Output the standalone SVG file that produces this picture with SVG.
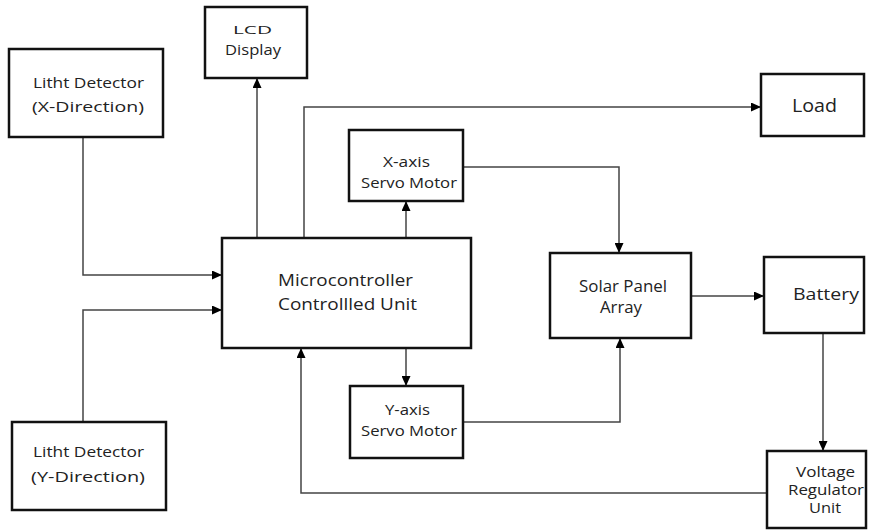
<svg xmlns="http://www.w3.org/2000/svg" width="877" height="531" viewBox="0 0 877 531">
<style>
.box{fill:#fff;stroke:#111;stroke-width:2.5}
.t{font-family:"Open Sans","Noto Sans",sans-serif;fill:#222;text-anchor:middle}
.c{fill:none;stroke:#444;stroke-width:1.5}
</style>
<defs>
<marker id="a" markerWidth="10" markerHeight="9" refX="10" refY="4.5" orient="auto" markerUnits="userSpaceOnUse">
<path d="M0,0 L10,4.5 L0,9 Z" fill="#000"/>
</marker>
</defs>
<g id="connectors">
<path class="c" d="M83,137 V275 H222" marker-end="url(#a)"/>
<path class="c" d="M83,422 V310 H222" marker-end="url(#a)"/>
<path class="c" d="M257,238 V78" marker-end="url(#a)"/>
<path class="c" d="M304,238 V107 H761" marker-end="url(#a)"/>
<path class="c" d="M406,238 V201" marker-end="url(#a)"/>
<path class="c" d="M463,167 H619 V253" marker-end="url(#a)"/>
<path class="c" d="M406,348 V386" marker-end="url(#a)"/>
<path class="c" d="M463,422 H620 V338" marker-end="url(#a)"/>
<path class="c" d="M691,296 H764" marker-end="url(#a)"/>
<path class="c" d="M823,333 V451" marker-end="url(#a)"/>
<path class="c" d="M767,493 H301 V348" marker-end="url(#a)"/>
</g>
<g id="ldx"><rect class="box" x="9" y="49" width="154" height="88"/><text class="t" font-size="14.5" x="88.5" y="88" textLength="111" lengthAdjust="spacingAndGlyphs">Litht Detector</text><text class="t" font-size="14.5" x="88" y="112" textLength="112" lengthAdjust="spacingAndGlyphs">(X-Direction)</text></g>
<g id="lcd"><rect class="box" x="205" y="7" width="102" height="71"/><text class="t" font-size="11.5" x="252.5" y="34" textLength="39" lengthAdjust="spacingAndGlyphs">LCD</text><text class="t" font-size="15" x="253" y="55" textLength="56" lengthAdjust="spacingAndGlyphs">Display</text></g>
<g id="load"><rect class="box" x="761" y="74" width="103" height="62"/><text class="t" font-size="19" x="814.5" y="112" textLength="45" lengthAdjust="spacingAndGlyphs">Load</text></g>
<g id="xaxis"><rect class="box" x="349" y="130" width="114" height="71"/><text class="t" font-size="15" x="406.5" y="167" textLength="47" lengthAdjust="spacingAndGlyphs">X-axis</text><text class="t" font-size="15" x="409" y="188" textLength="96" lengthAdjust="spacingAndGlyphs">Servo Motor</text></g>
<g id="mcu"><rect class="box" x="222" y="238" width="249" height="110"/><text class="t" font-size="17" x="345.5" y="286" textLength="135" lengthAdjust="spacingAndGlyphs">Microcontroller</text><text class="t" font-size="17" x="347.5" y="310" textLength="139" lengthAdjust="spacingAndGlyphs">Controllled Unit</text></g>
<g id="solar"><rect class="box" x="550" y="253" width="141" height="85"/><text class="t" font-size="16" x="623" y="292" textLength="88" lengthAdjust="spacingAndGlyphs">Solar Panel</text><text class="t" font-size="16" x="621" y="313" textLength="42" lengthAdjust="spacingAndGlyphs">Array</text></g>
<g id="battery"><rect class="box" x="764" y="257" width="100" height="76"/><text class="t" font-size="17" x="826" y="300" textLength="66" lengthAdjust="spacingAndGlyphs">Battery</text></g>
<g id="yaxis"><rect class="box" x="350" y="386" width="113" height="72"/><text class="t" font-size="15" x="407.5" y="415" textLength="45" lengthAdjust="spacingAndGlyphs">Y-axis</text><text class="t" font-size="15" x="409" y="436" textLength="96" lengthAdjust="spacingAndGlyphs">Servo Motor</text></g>
<g id="ldy"><rect class="box" x="12" y="422" width="154" height="88"/><text class="t" font-size="14.5" x="88.5" y="457" textLength="111" lengthAdjust="spacingAndGlyphs">Litht Detector</text><text class="t" font-size="14.5" x="88" y="482" textLength="114" lengthAdjust="spacingAndGlyphs">(Y-Direction)</text></g>
<g id="vru"><rect class="box" x="767" y="451" width="99" height="77"/><text class="t" font-size="14" x="825.5" y="477" textLength="59" lengthAdjust="spacingAndGlyphs">Voltage</text><text class="t" font-size="14" x="826" y="495" textLength="76" lengthAdjust="spacingAndGlyphs">Regulator</text><text class="t" font-size="14" x="825" y="513" textLength="32" lengthAdjust="spacingAndGlyphs">Unit</text></g>
</svg>
